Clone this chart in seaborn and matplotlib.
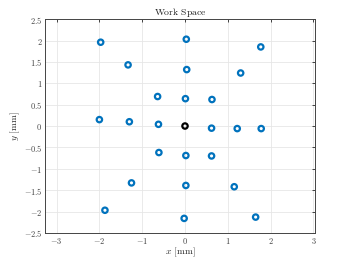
import matplotlib
matplotlib.use("Agg")
import matplotlib.pyplot as plt
import seaborn as sns
import numpy as np
import pandas as pd

# workspace target points [mm]
x_pts = [-1.97, -1.33, -0.64, -2.00, -1.30, -0.62,
         0.03, 1.77, 0.04, 1.30, 0.01, 0.63,
         0.62, 1.22, 1.78,
         -0.61, -1.25, -1.87,
         0.02, 0.62, 0.02, 1.15, -0.02, 1.65]
y_pts = [1.96, 1.43, 0.69, 0.15, 0.10, 0.04,
         2.03, 1.85, 1.32, 1.24, 0.64, 0.62,
         -0.05, -0.06, -0.06,
         -0.62, -1.33, -1.97,
         -0.69, -0.70, -1.39, -1.42, -2.16, -2.13]
origin_x = [0.0]
origin_y = [0.0]

x_ticks = [-3, -2, -1, 0, 1, 2, 3]
y_ticks = [-2.5, -2, -1.5, -1, -0.5, 0, 0.5, 1, 1.5, 2, 2.5]

sns.set_style("white")
plt.rcParams['mathtext.fontset'] = 'cm'
plt.rcParams['font.family'] = ['DejaVu Serif']

df = pd.DataFrame({'x': x_pts, 'y': y_pts})
df0 = pd.DataFrame({'x': origin_x, 'y': origin_y})

fig = plt.figure(figsize=(3.49, 2.62), dpi=100)
ax = fig.add_axes([0.129, 0.111, 0.774, 0.816])

sns.scatterplot(data=df, x='x', y='y', ax=ax, marker='o', s=15,
                facecolor='none', edgecolor='#0072BD', linewidth=1.6, zorder=3)
sns.scatterplot(data=df0, x='x', y='y', ax=ax, marker='o', s=15,
                facecolor='none', edgecolor='black', linewidth=1.6, zorder=3)

ax.set_xlim(-3.27, 3.04)
ax.set_ylim(-2.5, 2.5)
ax.set_xticks(x_ticks)
ax.set_yticks(y_ticks)
ax.set_xticklabels([rf'${t:g}$' for t in x_ticks])
ax.set_yticklabels([rf'${t:g}$' for t in y_ticks])
ax.grid(True, color='#e6e6e6', linewidth=0.6)
ax.set_axisbelow(True)
ax.tick_params(direction='in', length=2.5, width=0.6, labelsize=6,
               colors='#262626', labelcolor='#444444',
               top=True, right=True, pad=2)
for sp in ax.spines.values():
    sp.set_color('#444444')
    sp.set_linewidth(0.7)

ax.set_title(r'$\mathrm{Work\ Space}$', fontsize=7, color='#222222', pad=3)
ax.set_xlabel(r'$x\ \mathrm{[mm]}$', fontsize=7, color='#333333', labelpad=0)
ax.set_ylabel(r'$y\ \mathrm{[mm]}$', fontsize=7, color='#333333', labelpad=1)

fig.savefig('out.png', dpi=100)
